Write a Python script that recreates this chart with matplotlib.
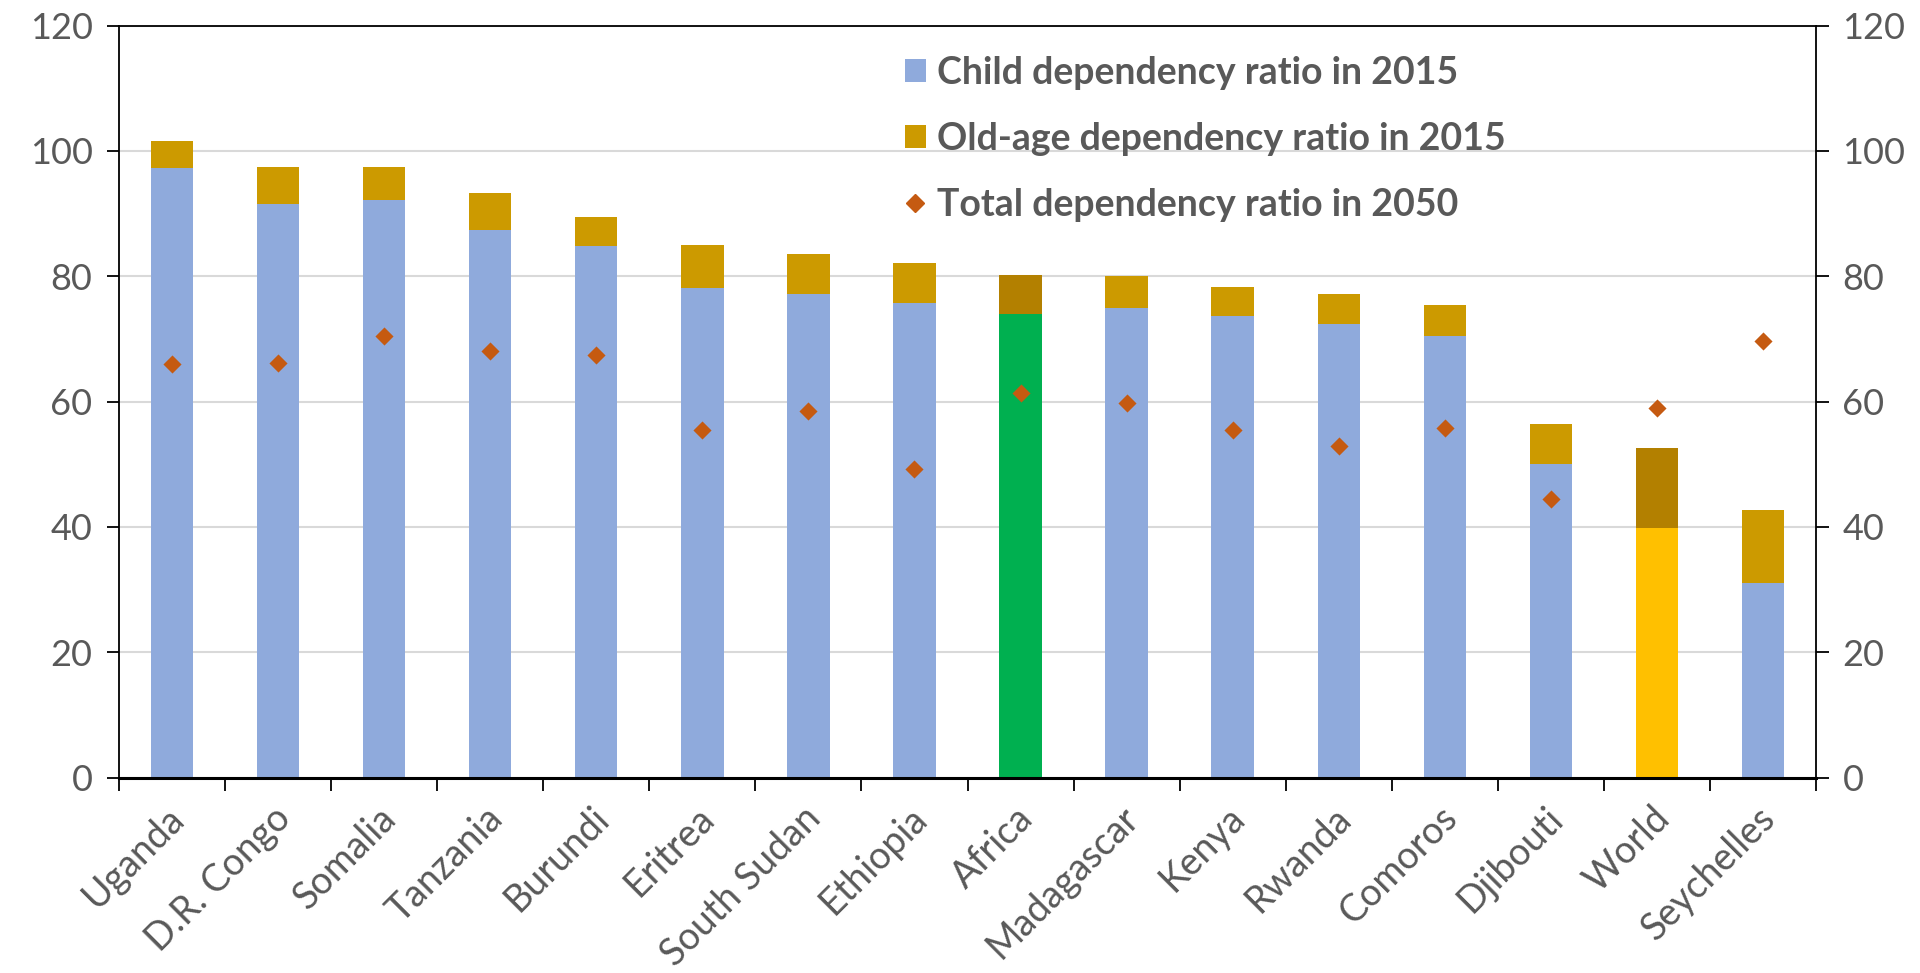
import matplotlib
matplotlib.use("Agg")
import matplotlib.pyplot as plt
import matplotlib.transforms as mtransforms
from matplotlib.patches import Patch
from matplotlib.lines import Line2D
import numpy as np

plt.rcParams['font.family'] = ['Lato', 'DejaVu Sans']

countries = ["Uganda", "D.R. Congo", "Somalia", "Tanzania", "Burundi", "Eritrea",
             "South Sudan", "Ethiopia", "Africa", "Madagascar", "Kenya", "Rwanda",
             "Comoros", "Djibouti", "World", "Seychelles"]
child_2015 = [97.2, 91.5, 92.1, 87.4, 84.8, 78.1, 77.1, 75.7, 74.0, 75.0, 73.7, 72.3,
              70.5, 50.1, 39.8, 31.0]
total_2015 = [101.5, 97.4, 97.4, 93.3, 89.5, 84.9, 83.6, 82.1, 80.2, 80.1, 78.2, 77.2,
              75.4, 56.4, 52.6, 42.7]
old_2015 = [t - c for t, c in zip(total_2015, child_2015)]
total_2050 = [66.0, 66.1, 70.5, 68.1, 67.5, 55.4, 58.5, 49.2, 61.4, 59.7, 55.4, 52.9,
              55.8, 44.5, 58.9, 69.7]
yticks = [0, 20, 40, 60, 80, 100, 120]

C_CHILD = "#8FAADC"
C_OLD = "#CC9A00"
C_DIAMOND = "#C55A11"
special_child = {"Africa": "#00B050", "World": "#FFC000"}
special_old = {"Africa": "#B38000", "World": "#B38000"}
TXT = "#595959"

fig = plt.figure(figsize=(19.2, 9.73), dpi=100)
ax = fig.add_axes([119/1920, 1-777.5/973, (1816-119)/1920, (777.5-25.5)/973])

x = np.arange(len(countries))
cc = [special_child.get(c, C_CHILD) for c in countries]
oc = [special_old.get(c, C_OLD) for c in countries]
w = 0.40
ax.bar(x, child_2015, width=w, color=cc, zorder=2)
ax.bar(x, old_2015, bottom=child_2015, width=w, color=oc, zorder=2)
ax.scatter(x, total_2050, marker='D', s=85, color=C_DIAMOND, zorder=3, linewidths=0)

ax.set_xlim(-0.5, len(countries) - 0.5)
ax.set_ylim(0, 120)
ax.set_yticks(yticks)
ax.yaxis.grid(True, color="#D9D9D9", linewidth=1.5, zorder=0)
ax.set_axisbelow(True)

ax.set_xticks(x)
ax.set_xticklabels(countries, rotation=45, ha='right', rotation_mode='anchor',
                   fontsize=27, color=TXT)
ax.set_xticks(np.arange(-0.5, len(countries), 1.0), minor=True)
ax.tick_params(axis='x', which='major', length=0, pad=16)
ax.tick_params(axis='x', which='minor', length=9, width=1.3, direction='out', color='black')
offset = mtransforms.ScaledTranslation(-6/100, 0, fig.dpi_scale_trans)
for lbl in ax.get_xticklabels():
    lbl.set_transform(lbl.get_transform() + offset)

ax.tick_params(axis='y', which='major', length=9, width=1.3, direction='out',
               left=True, right=True, labelleft=True, labelright=True,
               labelsize=26, labelcolor=TXT, pad=10)

for s in ['left', 'right', 'top']:
    ax.spines[s].set_color('black')
    ax.spines[s].set_linewidth(1.3)
ax.spines['bottom'].set_color('black')
ax.spines['bottom'].set_linewidth(2.2)

handles = [
    Patch(facecolor=C_CHILD, edgecolor='none'),
    Patch(facecolor=C_OLD, edgecolor='none'),
    Line2D([], [], marker='D', linestyle='none', color=C_DIAMOND, markersize=9),
]
labels = ["Child dependency ratio in 2015", "Old-age dependency ratio in 2015",
          "Total dependency ratio in 2050"]
leg = fig.legend(handles, labels, loc='upper left', bbox_to_anchor=(905/1920, 1-56/973),
                 frameon=False, fontsize=27, handlelength=0.55, handleheight=0.55,
                 handletextpad=0.3, labelspacing=0.85, borderpad=0, borderaxespad=0)
for t in leg.get_texts():
    t.set_color(TXT)
    t.set_fontweight('bold')

fig.savefig("out.png", dpi=100)
